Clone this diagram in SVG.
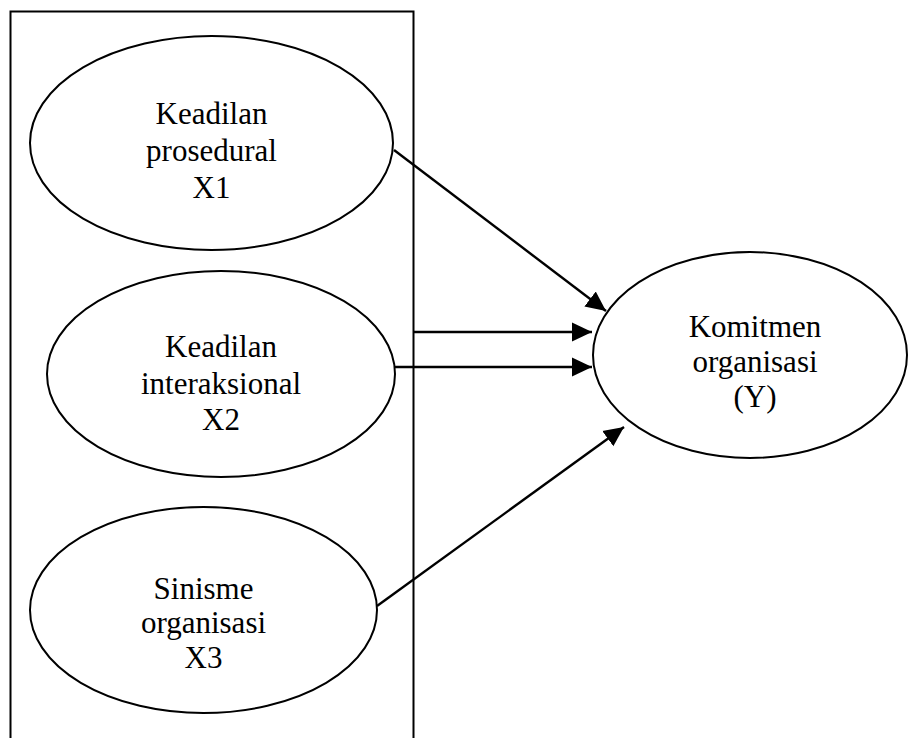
<svg xmlns="http://www.w3.org/2000/svg" width="908" height="738" viewBox="0 0 908 738">
<style>
.node{fill:#fff;stroke:#000;stroke-width:2}
.lbl{font-family:"Liberation Serif","Times New Roman",serif;font-size:31px;fill:#000;text-anchor:middle}
.edge{stroke:#000;stroke-width:2.4;fill:none}
</style>
<defs>
<marker id="ah" markerUnits="userSpaceOnUse" markerWidth="20" markerHeight="20" viewBox="0 0 17 16" refX="17" refY="8" orient="auto">
<path d="M0 0 L17 8 L0 16 Z" fill="#000"/>
</marker>
</defs>
<rect width="908" height="738" fill="#fff"/>
<g id="box">
<path d="M10.5 742 V11.5 H413.5 V742" fill="none" stroke="#000" stroke-width="2"/>
</g>
<g id="x1">
<ellipse class="node" cx="211.5" cy="143" rx="181.5" ry="107"/>
<text class="lbl" x="211.5" y="124">Keadilan</text>
<text class="lbl" x="211.5" y="161">prosedural</text>
<text class="lbl" x="211.5" y="198">X1</text>
</g>
<g id="x2">
<ellipse class="node" cx="221" cy="374" rx="174" ry="103"/>
<text class="lbl" x="221" y="357">Keadilan</text>
<text class="lbl" x="221" y="394">interaksional</text>
<text class="lbl" x="221" y="430">X2</text>
</g>
<g id="x3">
<ellipse class="node" cx="203.5" cy="610" rx="173.5" ry="103"/>
<text class="lbl" x="203.5" y="599">Sinisme</text>
<text class="lbl" x="203.5" y="633">organisasi</text>
<text class="lbl" x="203.5" y="668">X3</text>
</g>
<g id="y">
<ellipse class="node" cx="750" cy="355" rx="157" ry="103"/>
<text class="lbl" x="755" y="337">Komitmen</text>
<text class="lbl" x="755" y="372">organisasi</text>
<text class="lbl" x="755" y="407">(Y)</text>
</g>
<g id="connectors">
<line class="edge" x1="394" y1="150" x2="606" y2="311" marker-end="url(#ah)"/>
<line class="edge" x1="414" y1="332" x2="592" y2="332" marker-end="url(#ah)"/>
<line class="edge" x1="394" y1="367" x2="592" y2="367" marker-end="url(#ah)"/>
<line class="edge" x1="377" y1="606" x2="624" y2="427" marker-end="url(#ah)"/>
</g>
</svg>
